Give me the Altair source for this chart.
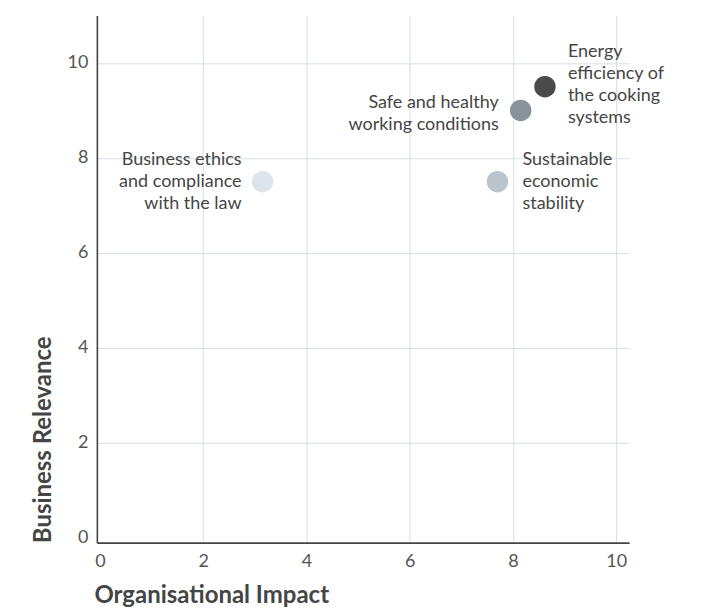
import altair as alt
import pandas as pd

# Data
topics = [
    "Business ethics and compliance with the law",
    "Sustainable economic stability",
    "Safe and healthy working conditions",
    "Energy efficiency of the cooking systems",
]
labels = [
    "Business ethics\nand compliance\nwith the law",
    "Sustainable\neconomic\nstability",
    "Safe and healthy\nworking conditions",
    "Energy\nefficiency of\nthe cooking\nsystems",
]
impact = [3.15, 7.7, 8.15, 8.62]
relevance = [7.5, 7.5, 9.0, 9.5]
palette = ["#dde5ec", "#bcc4cb", "#87929a", "#4a4a4c"]

df = pd.DataFrame({"topic": topics, "label": labels, "impact": impact, "relevance": relevance})

FONT = "Lato"
TXT = "#454545"

x_enc = alt.X(
    "impact:Q",
    scale=alt.Scale(domain=[-0.06, 10.25], nice=False, zero=False),
    axis=alt.Axis(
        title="Organisational Impact",
        values=[0, 2, 4, 6, 8, 10],
        titleAnchor="start",
        titleAlign="left",
        titleX=-3,
        titleFontSize=24,
        titleFontWeight="bold",
        titleColor=TXT,
        titlePadding=13,
        labelFontSize=18,
        labelColor="#555555",
        labelPadding=10,
        ticks=False,
        domainColor="#444444",
        domainWidth=1.6,
        gridColor={"condition": {"test": "datum.value === 0", "value": "transparent"}, "value": "#d6dee5"},
        gridWidth=1,
    ),
)
y_enc = alt.Y(
    "relevance:Q",
    scale=alt.Scale(domain=[-0.1, 11], nice=False, zero=False),
    axis=alt.Axis(
        title="Business Relevance",
        values=[0, 2, 4, 6, 8, 10],
        titleAnchor="start",
        titleFontSize=24,
        titleFontWeight="bold",
        titleColor=TXT,
        titlePadding=12,
        labelFontSize=18,
        labelColor="#555555",
        labelPadding=9,
        ticks=False,
        domainColor="#444444",
        domainWidth=1.6,
        gridColor={"condition": {"test": "datum.value === 0", "value": "transparent"}, "value": "#d6dee5"},
        gridWidth=1,
    ),
)

base = alt.Chart(df).encode(x=x_enc, y=y_enc)

points = base.mark_circle(size=460, opacity=1).encode(
    color=alt.Color("topic:N", scale=alt.Scale(domain=topics, range=palette), legend=None)
)

def label_layer(name, align, dx, dy):
    return (
        base.transform_filter(alt.datum.topic == name)
        .mark_text(
            align=align, baseline="middle", dx=dx, dy=dy, lineBreak="\n",
            lineHeight=22, fontSize=18, font=FONT, color=TXT,
        )
        .encode(text="label:N")
    )

chart = alt.layer(
    points,
    label_layer(topics[0], "right", -21, -22),
    label_layer(topics[1], "left", 25, -22),
    label_layer(topics[2], "right", -22, -7),
    label_layer(topics[3], "left", 23, -35),
).properties(
    width=533,
    height=528,
    autosize=alt.AutoSizeParams(type="none"),
    padding={"left": 89, "top": 7, "right": 70, "bottom": 70},
).configure(font=FONT).configure_view(stroke=None)

chart.save("out.html", embed_options={"renderer": "svg", "actions": False})
